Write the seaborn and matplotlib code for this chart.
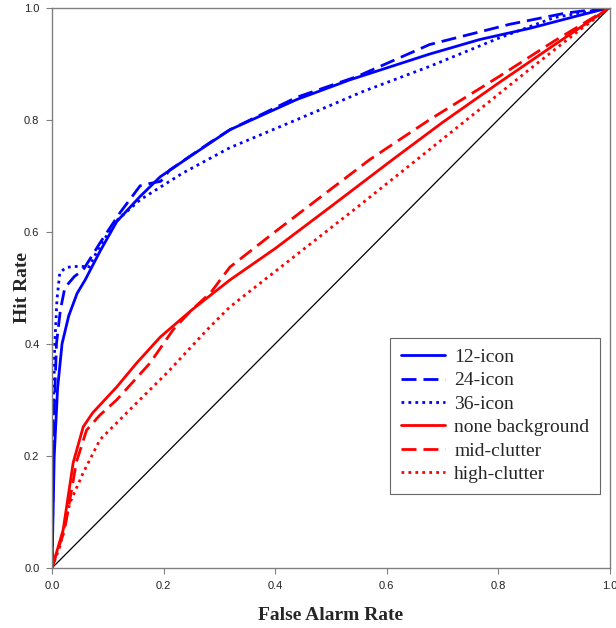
import pandas as pd
import seaborn as sns
import matplotlib.pyplot as plt
from matplotlib.lines import Line2D

# ROC curves (false alarm rate, hit rate)
fa_12 = [0.0, 0.004, 0.010, 0.018, 0.030, 0.045, 0.060, 0.086, 0.116, 0.158, 0.194, 0.247, 0.319, 0.439, 0.534, 0.677, 0.767, 0.857, 0.930, 1.0]
hr_12 = [0.0, 0.200, 0.320, 0.400, 0.450, 0.490, 0.515, 0.565, 0.618, 0.663, 0.698, 0.734, 0.782, 0.836, 0.871, 0.917, 0.943, 0.963, 0.982, 1.0]

fa_24 = [0.0, 0.003, 0.008, 0.015, 0.023, 0.040, 0.056, 0.086, 0.122, 0.158, 0.175, 0.195, 0.211, 0.283, 0.319, 0.439, 0.547, 0.677, 0.820, 0.920, 1.0]
hr_24 = [0.0, 0.250, 0.400, 0.460, 0.500, 0.520, 0.532, 0.580, 0.634, 0.682, 0.686, 0.690, 0.710, 0.759, 0.782, 0.840, 0.877, 0.934, 0.970, 0.990, 1.0]

fa_36 = [0.0, 0.002, 0.005, 0.009, 0.014, 0.025, 0.038, 0.056, 0.065, 0.086, 0.116, 0.158, 0.235, 0.319, 0.439, 0.557, 0.677, 0.800, 0.900, 1.0]
hr_36 = [0.0, 0.250, 0.400, 0.480, 0.527, 0.536, 0.538, 0.538, 0.535, 0.575, 0.620, 0.657, 0.705, 0.750, 0.800, 0.850, 0.895, 0.945, 0.982, 1.0]

fa_none = [0.0, 0.010, 0.020, 0.038, 0.056, 0.073, 0.116, 0.152, 0.194, 0.250, 0.319, 0.400, 0.500, 0.611, 0.700, 0.800, 0.900, 1.0]
hr_none = [0.0, 0.034, 0.068, 0.188, 0.252, 0.277, 0.323, 0.366, 0.412, 0.460, 0.514, 0.570, 0.645, 0.729, 0.795, 0.865, 0.933, 1.0]

fa_mid = [0.0, 0.010, 0.022, 0.044, 0.062, 0.085, 0.116, 0.176, 0.217, 0.250, 0.285, 0.319, 0.400, 0.500, 0.570, 0.677, 0.800, 0.900, 1.0]
hr_mid = [0.0, 0.032, 0.065, 0.190, 0.246, 0.272, 0.300, 0.366, 0.425, 0.460, 0.492, 0.537, 0.600, 0.676, 0.729, 0.800, 0.876, 0.940, 1.0]

fa_high = [0.0, 0.014, 0.032, 0.056, 0.086, 0.145, 0.206, 0.278, 0.319, 0.450, 0.550, 0.647, 0.750, 0.850, 0.946, 1.0]
hr_high = [0.0, 0.038, 0.116, 0.170, 0.229, 0.288, 0.348, 0.425, 0.466, 0.568, 0.646, 0.723, 0.805, 0.885, 0.960, 1.0]

chance_x = [0.0, 1.0]
chance_y = [0.0, 1.0]

labels = ['12-icon', '24-icon', '36-icon', 'none background', 'mid-clutter', 'high-clutter']
colors = ['#0000ff', '#0000ff', '#0000ff', '#ff0000', '#ff0000', '#ff0000']
dash_styles = ['-', (0, (5.4, 2.5)), (0, (1, 1.5)), '-', (0, (5.4, 2.5)), (0, (1, 1.5))]

series = [(fa_12, hr_12), (fa_24, hr_24), (fa_36, hr_36),
          (fa_none, hr_none), (fa_mid, hr_mid), (fa_high, hr_high)]

frames = []
for lab, (xs, ys) in zip(labels, series):
    frames.append(pd.DataFrame({'fa': xs, 'hr': ys, 'condition': lab}))
df = pd.concat(frames, ignore_index=True)

sns.set_theme(style='white')
plt.rcParams['font.family'] = ['Liberation Sans', 'DejaVu Sans']

fig = plt.figure(figsize=(6.16, 6.28), dpi=100)
ax = fig.add_axes([0.0844, 0.0955, 0.9056, 0.8925])

sns.lineplot(x=chance_x, y=chance_y, color='black', linewidth=0.9, ax=ax)

handles = []
for lab, col, ls in zip(labels, colors, dash_styles):
    sub = df[df['condition'] == lab]
    sns.lineplot(data=sub, x='fa', y='hr', sort=False, estimator=None,
                 color=col, linewidth=2.0, linestyle=ls, ax=ax)
    handles.append(Line2D([0], [0], color=col, linewidth=2.0, linestyle=ls, label=lab))

ax.set_xlim(0, 1)
ax.set_ylim(0, 1)
ax.set_xticks([0.0, 0.2, 0.4, 0.6, 0.8, 1.0])
ax.set_yticks([0.0, 0.2, 0.4, 0.6, 0.8, 1.0])
ax.set_xticklabels(['0.0', '0.2', '0.4', '0.6', '0.8', '1.0'])
ax.set_yticklabels(['0.0', '0.2', '0.4', '0.6', '0.8', '1.0'])
ax.tick_params(axis='both', direction='out', length=4, width=0.8, color='#808080',
               labelsize=8, labelcolor='#222222', pad=5, bottom=True, left=True)
for s in ax.spines.values():
    s.set_color('#808080')
    s.set_linewidth(1.0)

ax.set_xlabel('False Alarm Rate', fontsize=14, fontweight='bold',
              family=['Liberation Serif'])
ax.set_ylabel('Hit Rate', fontsize=14, fontweight='bold',
              family=['Liberation Serif'])
ax.xaxis.set_label_coords(0.5, -0.070)
ax.yaxis.set_label_coords(-0.038, 0.5)

leg = ax.legend(handles=handles, loc='upper left', bbox_to_anchor=(0.606, 0.411),
                prop={'family': 'Liberation Serif', 'size': 14},
                frameon=True, fancybox=False, edgecolor='#404040',
                handlelength=2.3, handletextpad=0.45, labelspacing=0.3,
                borderpad=0.55, borderaxespad=0)
leg.get_frame().set_linewidth(0.8)

fig.savefig('out.png', dpi=100)
plt.close(fig)
